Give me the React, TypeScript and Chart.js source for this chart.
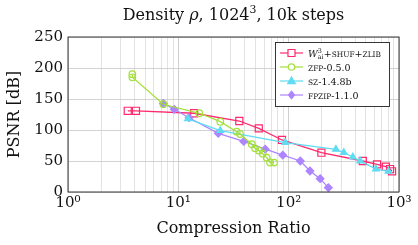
import React, { useEffect, useRef } from 'react';
import { Chart, registerables } from 'chart.js';
Chart.register(...registerables);

// ---- data ----
const wX = [3.48, 4.13, 13.9, 35.7, 53.6, 87, 198, 470, 632, 760, 830, 865];
const wY = [131, 131, 127, 114.5, 102.7, 83.9, 63.4, 50, 44.6, 40.8, 37, 33.4];
const zfpX = [3.83, 3.83, 7.31, 15.5, 24, 33.8, 36.3, 46.3, 49.6, 53.9, 58.2, 63.2, 67.8, 73.7];
const zfpY = [190, 185, 141.5, 127, 113.4, 97.3, 93.5, 77, 70.4, 66.7, 61.8, 55.4, 47.6, 47.4];
const szX = [12.2, 24, 93, 268, 316, 381, 445, 618, 802];
const szY = [118, 99, 79.7, 68.8, 63.6, 56.5, 50.2, 37, 33.3];
const fpzipX = [7.31, 9.2, 12.5, 23, 39.2, 61.3, 88.5, 127.5, 156, 193, 229];
const fpzipY = [143, 133.4, 119.8, 94.6, 81.5, 69, 59.4, 50, 33.9, 21.5, 7];

const xTickValues = [1, 2, 3, 4, 5, 6, 7, 8, 9, 10, 20, 30, 40, 50, 60, 70, 80, 90, 100, 200, 300, 400, 500, 600, 700, 800, 900, 1000];
const xMajorLabels: Record<number, string> = { 1: '10⁰', 10: '10¹', 100: '10²', 1000: '10³' };
const yTickValues = [0, 50, 100, 150, 200, 250];

const xTitle = 'Compression Ratio';
const yTitle = 'PSNR [dB]';

const PINK = '#ff2a6d';
const GREEN = '#a3e03c';
const CYAN = '#5fdcf2';
const PURPLE = '#ad85ff';

const SERIF = '"DejaVu Serif", serif';

const zip = (xs: number[], ys: number[]) => xs.map((x, i) => ({ x, y: ys[i] }));

type Seg = { t: string; sc?: boolean; it?: boolean; sup?: boolean; sub?: boolean };

function drawSegs(ctx: CanvasRenderingContext2D, segs: Seg[], x: number, y: number, size: number, measureOnly = false): number {
  let cx = x;
  let lastSupStart = 0;
  let lastSupWidth = 0;
  for (const s of segs) {
    if (s.sc) {
      for (const ch of s.t) {
        const lower = ch !== ch.toUpperCase();
        const fs = lower ? size * 0.78 : size;
        ctx.font = `${fs}px ${SERIF}`;
        const c = ch.toUpperCase();
        if (!measureOnly) ctx.fillText(c, cx, y);
        cx += ctx.measureText(c).width;
      }
    } else if (s.sup || s.sub) {
      const fs = size * 0.68;
      ctx.font = `${fs}px ${SERIF}`;
      const dy = s.sup ? -size * 0.42 : size * 0.28;
      let sx = cx;
      if (s.sub && lastSupWidth > 0) sx = lastSupStart;
      if (!measureOnly) ctx.fillText(s.t, sx, y + dy);
      const w = ctx.measureText(s.t).width;
      if (s.sup) { lastSupStart = cx; lastSupWidth = w; cx += w; }
      else {
        if (lastSupWidth > 0) { cx = Math.max(cx, sx + w); lastSupWidth = 0; }
        else cx += w;
      }
    } else {
      ctx.font = `${s.it ? 'italic ' : ''}${size}px ${SERIF}`;
      if (!measureOnly) ctx.fillText(s.t, cx, y);
      cx += ctx.measureText(s.t).width;
    }
  }
  return cx - x;
}

const titleSegs: Seg[] = [
  { t: 'Density ' }, { t: 'ρ', it: true }, { t: ', 1024' }, { t: '3', sup: true }, { t: ', 10k steps' },
];

const legendItems: { segs: Seg[]; color: string; style: string }[] = [
  { segs: [{ t: 'W', it: true }, { t: '3', sup: true }, { t: 'ai', sub: true }, { t: '+shuf+zlib', sc: true }], color: PINK, style: 'rect' },
  { segs: [{ t: 'zfp', sc: true }, { t: '-0.5.0' }], color: GREEN, style: 'circle' },
  { segs: [{ t: 'sz', sc: true }, { t: '-1.4.8b' }], color: CYAN, style: 'triangle' },
  { segs: [{ t: 'fpzip', sc: true }, { t: '-1.1.0' }], color: PURPLE, style: 'rectRot' },
];

function drawMarker(ctx: CanvasRenderingContext2D, style: string, color: string, x: number, y: number) {
  ctx.save();
  ctx.strokeStyle = color;
  ctx.fillStyle = color;
  ctx.lineWidth = 1.2;
  ctx.beginPath();
  if (style === 'rect') {
    ctx.rect(x - 3.5, y - 3.5, 7, 7);
    ctx.fillStyle = '#fff';
    ctx.fill();
    ctx.stroke();
  } else if (style === 'circle') {
    ctx.arc(x, y, 3.2, 0, Math.PI * 2);
    ctx.fillStyle = '#fff';
    ctx.fill();
    ctx.stroke();
  } else if (style === 'triangle') {
    ctx.moveTo(x, y - 4);
    ctx.lineTo(x + 3.8, y + 2.6);
    ctx.lineTo(x - 3.8, y + 2.6);
    ctx.closePath();
    ctx.fill();
    ctx.stroke();
  } else {
    ctx.moveTo(x, y - 3.8);
    ctx.lineTo(x + 3, y);
    ctx.lineTo(x, y + 3.8);
    ctx.lineTo(x - 3, y);
    ctx.closePath();
    ctx.fill();
    ctx.stroke();
  }
  ctx.restore();
}

const overlayPlugin = {
  id: 'overlay',
  afterDatasetsDraw(chart: any) {
    const { ctx, chartArea: a } = chart;
    ctx.save();
    ctx.strokeStyle = '#222';
    ctx.lineWidth = 0.9;
    ctx.strokeRect(a.left, a.top, a.right - a.left, a.bottom - a.top);
    ctx.restore();
  },
  afterDraw(chart: any) {
    const { ctx, chartArea: a } = chart;
    ctx.save();
    // title
    ctx.fillStyle = '#111';
    ctx.textBaseline = 'alphabetic';
    ctx.textAlign = 'left';
    const tSize = 16;
    const tw = drawSegs(ctx, titleSegs, 0, 0, tSize, true);
    drawSegs(ctx, titleSegs, (a.left + a.right) / 2 - tw / 2, 20, tSize);

    // legend
    const lx = 275, ly = 42, lw = 114, lh = 64;
    ctx.fillStyle = '#fff';
    ctx.fillRect(lx, ly, lw, lh);
    ctx.strokeStyle = '#222';
    ctx.lineWidth = 0.9;
    ctx.strokeRect(lx + 0.5, ly + 0.5, lw, lh);
    legendItems.forEach((it, i) => {
      const ry = ly + 11 + i * 14;
      ctx.strokeStyle = it.color;
      ctx.lineWidth = 1.2;
      ctx.beginPath();
      ctx.moveTo(280, ry);
      ctx.lineTo(303, ry);
      ctx.stroke();
      drawMarker(ctx, it.style, it.color, 291.5, ry);
      ctx.fillStyle = '#111';
      drawSegs(ctx, it.segs, 308, ry + 3.5, 9.5);
    });
    ctx.restore();
  },
};

export default function App() {
  const ref = useRef<HTMLCanvasElement | null>(null);
  useEffect(() => {
    if (!ref.current) return;
    const mk = (label: string, xs: number[], ys: number[], color: string, style: string, radius: number, fill: string) => ({
      label,
      data: zip(xs, ys),
      showLine: true,
      borderColor: color,
      backgroundColor: fill,
      pointBorderColor: color,
      pointBackgroundColor: fill,
      pointStyle: style,
      pointRadius: radius,
      pointBorderWidth: 1.2,
      borderWidth: 1.3,
    });
    const chart = new Chart(ref.current, {
      type: 'scatter',
      data: {
        datasets: [
          mk('zfp', zfpX, zfpY, GREEN, 'circle', 3.3, 'rgba(255,255,255,0)'),
          mk('sz', szX, szY, CYAN, 'triangle', 3.8, CYAN),
          mk('fpzip', fpzipX, fpzipY, PURPLE, 'rectRot', 3.8, PURPLE),
          mk('w', wX, wY, PINK, 'rect', 5, 'rgba(255,255,255,0)'),
        ],
      },
      options: {
        animation: false,
        responsive: true,
        maintainAspectRatio: false,
        layout: { padding: { top: 37, right: 19, left: 0, bottom: 0 } },
        plugins: { legend: { display: false }, tooltip: { enabled: false }, title: { display: false } },
        scales: {
          x: {
            type: 'logarithmic',
            min: 1,
            max: 1000,
            afterBuildTicks: (s: any) => { s.ticks = xTickValues.map((v) => ({ value: v })); },
            afterFit: (s: any) => { s.height = 53; },
            ticks: {
              autoSkip: false,
              maxRotation: 0,
              padding: 2,
              color: '#111',
              font: { family: SERIF, size: 15 },
              callback: (v: any) => xMajorLabels[Number(v)] ?? '',
            },
            grid: {
              drawTicks: false,
              color: (c: any) => (xMajorLabels[c.tick?.value] ? '#c4c4c4' : '#dcdcdc'),
              lineWidth: 0.8,
            },
            border: { display: false },
            title: { display: true, text: xTitle, color: '#111', font: { family: SERIF, size: 16 }, padding: { top: 0, bottom: 7 } },
          },
          y: {
            type: 'linear',
            min: 0,
            max: 250,
            afterBuildTicks: (s: any) => { s.ticks = yTickValues.map((v) => ({ value: v })); },
            afterFit: (s: any) => { s.width = 68; },
            ticks: { padding: 5, color: '#111', font: { family: SERIF, size: 15 } },
            grid: { drawTicks: false, color: '#c8c8c8', lineWidth: 0.8 },
            border: { display: false },
            title: { display: true, text: yTitle, color: '#111', font: { family: SERIF, size: 16 }, padding: { top: 5, bottom: 0 } },
          },
        },
      },
      plugins: [overlayPlugin],
    } as any);
    return () => chart.destroy();
  }, []);
  return (
    <div style={{ position: 'absolute', left: 0, top: 0, width: 418, height: 245, background: '#fff' }}>
      <canvas ref={ref} />
    </div>
  );
}
